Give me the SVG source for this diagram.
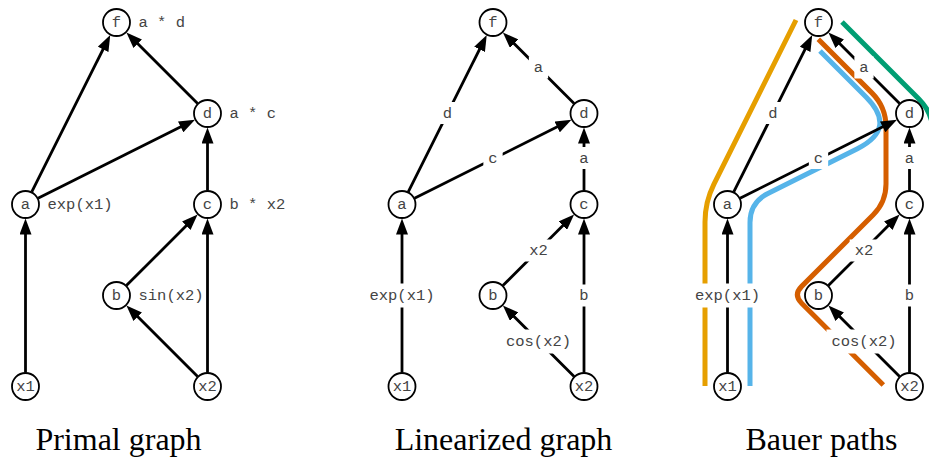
<svg xmlns="http://www.w3.org/2000/svg" width="929" height="459" viewBox="0 0 929 459">
<defs>
<marker id="ah" viewBox="0 0 16 12" markerWidth="16" markerHeight="12" refX="8" refY="6" orient="auto" markerUnits="userSpaceOnUse">
<path d="M0,0 L16,6 L0,12 z" fill="#000"/>
</marker>
</defs>
<style>
.edge{stroke:#000;stroke-width:2.8;fill:none;marker-end:url(#ah)}
.node circle{fill:#fff;stroke:#000;stroke-width:1.8}
.nt{font-family:"Liberation Mono","Courier New",monospace;font-size:15.5px;fill:#444;text-anchor:middle}
.side{font-family:"Liberation Mono","Courier New",monospace;font-size:15.5px;fill:#444}
.lb rect{fill:#fff}
.lb text{font-family:"Liberation Mono","Courier New",monospace;font-size:15.5px;fill:#444;text-anchor:middle}
.title{font-family:"Liberation Serif","Times New Roman",serif;font-size:32px;fill:#000;text-anchor:middle}
.bp{fill:none;stroke-width:5;stroke-linecap:butt;stroke-linejoin:round}
</style>
<rect width="929" height="459" fill="#fff"/>

<!-- Primal graph -->
<g id="primal" transform="translate(25.5,0)">
<g id="primal-connectors">
<line class="edge" x1="6.26" y1="191.98" x2="81.16" y2="42.18"/>
<line class="edge" x1="172.1" y1="103.6" x2="106.56" y2="38.06"/>
<line class="edge" x1="12.52" y1="198.24" x2="162.33" y2="123.34"/>
<line class="edge" x1="182" y1="190.5" x2="182" y2="135.5"/>
<line class="edge" x1="0" y1="372.5" x2="0" y2="226.5"/>
<line class="edge" x1="100.9" y1="285.6" x2="166.44" y2="220.06"/>
<line class="edge" x1="182" y1="372.5" x2="182" y2="226.5"/>
<line class="edge" x1="172.1" y1="376.6" x2="106.56" y2="311.06"/>
</g>
<g id="p-f" class="node"><circle cx="91" cy="22.5" r="13.5"/><text class="nt" x="91" y="27">f</text><text class="side" x="113" y="27">a * d</text></g>
<g id="p-d" class="node"><circle cx="182" cy="113.5" r="13.5"/><text class="nt" x="182" y="118">d</text><text class="side" x="204" y="118">a * c</text></g>
<g id="p-a" class="node"><circle cx="0" cy="204.5" r="13.5"/><text class="nt" x="0" y="209">a</text><text class="side" x="22" y="209">exp(x1)</text></g>
<g id="p-c" class="node"><circle cx="182" cy="204.5" r="13.5"/><text class="nt" x="182" y="209">c</text><text class="side" x="204" y="209">b * x2</text></g>
<g id="p-b" class="node"><circle cx="91" cy="295.5" r="13.5"/><text class="nt" x="91" y="300">b</text><text class="side" x="113" y="300">sin(x2)</text></g>
<g id="p-x1" class="node"><circle cx="0" cy="386.5" r="13.5"/><text class="nt" x="0" y="391">x1</text></g>
<g id="p-x2" class="node"><circle cx="182" cy="386.5" r="13.5"/><text class="nt" x="182" y="391">x2</text></g>
</g>

<!-- Linearized graph -->
<g id="linearized" transform="translate(402,0)">
<g id="lin-connectors">
<line class="edge" x1="6.26" y1="191.98" x2="81.16" y2="42.18"/>
<line class="edge" x1="172.1" y1="103.6" x2="106.56" y2="38.06"/>
<line class="edge" x1="12.52" y1="198.24" x2="162.33" y2="123.34"/>
<line class="edge" x1="182" y1="190.5" x2="182" y2="135.5"/>
<line class="edge" x1="0" y1="372.5" x2="0" y2="226.5"/>
<line class="edge" x1="100.9" y1="285.6" x2="166.44" y2="220.06"/>
<line class="edge" x1="182" y1="372.5" x2="182" y2="226.5"/>
<line class="edge" x1="172.1" y1="376.6" x2="106.56" y2="311.06"/>
<g class="lb"><rect x="35.85" y="102" width="19.3" height="22"/><text x="45.5" y="117.5">d</text></g>
<g class="lb"><rect x="126.85" y="56.5" width="19.3" height="22"/><text x="136.5" y="72">a</text></g>
<g class="lb"><rect x="81.35" y="147" width="19.3" height="22"/><text x="91" y="162.5">c</text></g>
<g class="lb"><rect x="172.35" y="147" width="19.3" height="22"/><text x="182" y="162.5">a</text></g>
<g class="lb"><rect x="-37.55" y="283.5" width="75.1" height="24"/><text x="0" y="300">exp(x1)</text></g>
<g class="lb"><rect x="122.2" y="239.5" width="28.6" height="22"/><text x="136.5" y="255">x2</text></g>
<g class="lb"><rect x="172.35" y="284.5" width="19.3" height="22"/><text x="182" y="300">b</text></g>
<g class="lb"><rect x="98.95" y="329.5" width="75.1" height="24"/><text x="136.5" y="346">cos(x2)</text></g>
</g>
<g id="l-f" class="node"><circle cx="91" cy="22.5" r="13.5"/><text class="nt" x="91" y="27">f</text></g>
<g id="l-d" class="node"><circle cx="182" cy="113.5" r="13.5"/><text class="nt" x="182" y="118">d</text></g>
<g id="l-a" class="node"><circle cx="0" cy="204.5" r="13.5"/><text class="nt" x="0" y="209">a</text></g>
<g id="l-c" class="node"><circle cx="182" cy="204.5" r="13.5"/><text class="nt" x="182" y="209">c</text></g>
<g id="l-b" class="node"><circle cx="91" cy="295.5" r="13.5"/><text class="nt" x="91" y="300">b</text></g>
<g id="l-x1" class="node"><circle cx="0" cy="386.5" r="13.5"/><text class="nt" x="0" y="391">x1</text></g>
<g id="l-x2" class="node"><circle cx="182" cy="386.5" r="13.5"/><text class="nt" x="182" y="391">x2</text></g>
</g>

<!-- Bauer paths -->
<g id="bauer" transform="translate(727.5,0)">
<g id="bauer-paths">
<path class="bp" stroke="#E69F00" d="M68.5,20 L-13.56,184.1 Q-22.5,202 -22.5,222 L-22.5,386"/>
<path class="bp" stroke="#56B4E9" d="M92.5,51 L138.3,96.8 Q170.13,128.63 129.9,148.75 L40.39,193.51 Q22.5,202.45 22.5,222.45 L22.5,386"/>
<path class="bp" stroke="#D55E00" d="M90.8,39.3 L144.36,92.86 Q158.5,107 158.5,127 L158.5,184 Q158.5,202 145.77,214.73 L74.14,286.36 Q65.65,294.85 74.14,303.34 L155.8,385"/>
<path class="bp" stroke="#009E73" d="M114.5,22 L191.4,98.9 Q205.5,113 205.5,133 L205.5,386"/>
</g>
<g id="bauer-connectors">
<line class="edge" x1="6.26" y1="191.98" x2="81.16" y2="42.18"/>
<line class="edge" x1="172.1" y1="103.6" x2="106.56" y2="38.06"/>
<line class="edge" x1="12.52" y1="198.24" x2="162.33" y2="123.34"/>
<line class="edge" x1="182" y1="190.5" x2="182" y2="135.5"/>
<line class="edge" x1="0" y1="372.5" x2="0" y2="226.5"/>
<line class="edge" x1="100.9" y1="285.6" x2="166.44" y2="220.06"/>
<line class="edge" x1="182" y1="372.5" x2="182" y2="226.5"/>
<line class="edge" x1="172.1" y1="376.6" x2="106.56" y2="311.06"/>
<g class="lb"><rect x="35.85" y="102" width="19.3" height="22"/><text x="45.5" y="117.5">d</text></g>
<g class="lb"><rect x="126.85" y="56.5" width="19.3" height="22"/><text x="136.5" y="72">a</text></g>
<g class="lb"><rect x="81.35" y="147" width="19.3" height="22"/><text x="91" y="162.5">c</text></g>
<g class="lb"><rect x="172.35" y="147" width="19.3" height="22"/><text x="182" y="162.5">a</text></g>
<g class="lb"><rect x="-37.55" y="283.5" width="75.1" height="24"/><text x="0" y="300">exp(x1)</text></g>
<g class="lb"><rect x="122.2" y="239.5" width="28.6" height="22"/><text x="136.5" y="255">x2</text></g>
<g class="lb"><rect x="172.35" y="284.5" width="19.3" height="22"/><text x="182" y="300">b</text></g>
<g class="lb"><rect x="98.95" y="329.5" width="75.1" height="24"/><text x="136.5" y="346">cos(x2)</text></g>
</g>
<g id="b-f" class="node"><circle cx="91" cy="22.5" r="13.5"/><text class="nt" x="91" y="27">f</text></g>
<g id="b-d" class="node"><circle cx="182" cy="113.5" r="13.5"/><text class="nt" x="182" y="118">d</text></g>
<g id="b-a" class="node"><circle cx="0" cy="204.5" r="13.5"/><text class="nt" x="0" y="209">a</text></g>
<g id="b-c" class="node"><circle cx="182" cy="204.5" r="13.5"/><text class="nt" x="182" y="209">c</text></g>
<g id="b-b" class="node"><circle cx="91" cy="295.5" r="13.5"/><text class="nt" x="91" y="300">b</text></g>
<g id="b-x1" class="node"><circle cx="0" cy="386.5" r="13.5"/><text class="nt" x="0" y="391">x1</text></g>
<g id="b-x2" class="node"><circle cx="182" cy="386.5" r="13.5"/><text class="nt" x="182" y="391">x2</text></g>
</g>

<g id="titles">
<text class="title" x="118.5" y="449.5">Primal graph</text>
<text class="title" x="503.5" y="449.5">Linearized graph</text>
<text class="title" x="821.5" y="449.5">Bauer paths</text>
</g>
</svg>
